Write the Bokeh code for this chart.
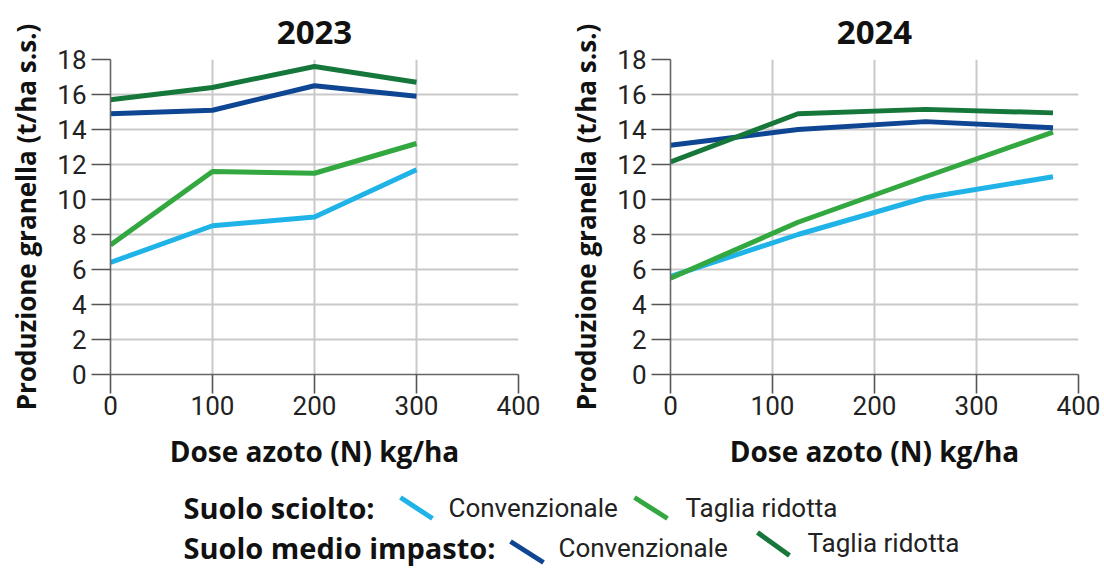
from bokeh.plotting import figure
from bokeh.models import Range1d, FixedTicker
from bokeh.layouts import column, row
from bokeh.core.properties import value
from bokeh.embed import file_html
from bokeh.resources import INLINE

# ---------------- data ----------------
x_2023 = [0, 100, 200, 300]
x_2024 = [0, 125, 250, 375]

sciolto_conv_2023 = [6.4, 8.5, 9.0, 11.7]
sciolto_tr_2023 = [7.4, 11.6, 11.5, 13.2]
medio_conv_2023 = [14.9, 15.1, 16.5, 15.9]
medio_tr_2023 = [15.7, 16.4, 17.6, 16.7]

sciolto_conv_2024 = [5.6, 8.0, 10.1, 11.3]
sciolto_tr_2024 = [5.5, 8.7, 11.3, 13.85]
medio_conv_2024 = [13.1, 14.0, 14.45, 14.1]
medio_tr_2024 = [12.15, 14.9, 15.15, 14.95]

x_ticks = [0, 100, 200, 300, 400]
y_ticks = [0, 2, 4, 6, 8, 10, 12, 14, 16, 18]

titles = ["2023", "2024"]
x_label = "Dose azoto (N) kg/ha"
y_label = "Produzione granella (t/ha s.s.)"

group_labels = ["Suolo sciolto:", "Suolo medio impasto:"]
item_labels = ["Convenzionale", "Taglia ridotta", "Convenzionale", "Taglia ridotta"]

C_LBLUE = "#1FB3E8"
C_GREEN = "#33A840"
C_DBLUE = "#0F4693"
C_DGREEN = "#16773A"
series_colors = [C_LBLUE, C_GREEN, C_DBLUE, C_DGREEN]

THIN = "Roboto"
BOLD = "Open Sans"

PLOT_H = 480


def make_panel(title, xs, series, width, left_border, right_border):
    p = figure(
        width=width, height=PLOT_H,
        x_range=Range1d(0, 400), y_range=Range1d(0, 18),
        output_backend="svg", toolbar_location=None,
        min_border_left=left_border, min_border_right=right_border,
        min_border_top=59, min_border_bottom=PLOT_H - 59 - 315,
        title=title,
    )
    p.outline_line_color = None
    p.title.align = "center"
    p.title.text_font = BOLD
    p.title.text_font_size = "33px"
    p.title.text_font_style = "bold"
    p.title.text_color = "#111111"
    p.title.standoff = 32

    for ax, ticks in ((p.xaxis[0], x_ticks), (p.yaxis[0], y_ticks)):
        ax.ticker = FixedTicker(ticks=ticks)
        ax.minor_tick_line_color = None
        ax.major_tick_in = 0
        ax.major_tick_out = 19
        ax.axis_line_color = "#666666"
        ax.axis_line_width = 1.6
        ax.major_tick_line_color = "#555555"
        ax.major_tick_line_width = 1.6
        ax.major_label_text_font = THIN
        ax.major_label_text_font_size = "26px"
        ax.major_label_text_color = "#222222"
        ax.axis_label_text_font = BOLD
        ax.axis_label_text_font_style = "bold"
        ax.axis_label_text_color = "#111111"
    p.xaxis.major_label_standoff = 2
    p.yaxis.major_label_standoff = 5
    p.xaxis.axis_label = x_label
    p.yaxis.axis_label = y_label
    p.xaxis.axis_label_text_font_size = "28px"
    p.yaxis.axis_label_text_font_size = "26px"
    p.xaxis.axis_label_standoff = 14
    p.yaxis.axis_label_standoff = 10

    p.grid.grid_line_color = "#c9c9c9"
    p.grid.grid_line_width = 2

    for ys, c in zip(series, series_colors):
        p.line(xs, ys, line_color=c, line_width=5, line_join="round")
    return p


p1 = make_panel(titles[0], x_2023,
                [sciolto_conv_2023, sciolto_tr_2023, medio_conv_2023, medio_tr_2023], 560, 110, 42)
p2 = make_panel(titles[1], x_2024,
                [sciolto_conv_2024, sciolto_tr_2024, medio_conv_2024, medio_tr_2024], 544, 110, 26)

# ---------------- legend ----------------
LW, LH = 1104, 568 - PLOT_H
leg = figure(width=LW, height=LH, x_range=Range1d(0, LW), y_range=Range1d(LH, 0),
             output_backend="svg", toolbar_location=None, min_border=0)
leg.axis.visible = False
leg.grid.visible = False
leg.outline_line_color = None

leg.text(x=[183, 183], y=[27, 67], text=group_labels,
         text_font=value(BOLD), text_font_style="bold", text_font_size=value("29px"),
         text_color="#111111", text_baseline="middle", text_align="left")
leg.text(x=[448, 685, 558, 807], y=[27, 27, 67, 62], text=item_labels,
         text_font=value(THIN), text_font_size=value("26px"),
         text_color="#222222", text_baseline="middle", text_align="left")
leg.segment(x0=[400, 634, 510, 757], y0=[17, 17, 61, 52],
            x1=[432, 667, 543, 789], y1=[38, 38, 82, 75],
            line_color=series_colors, line_width=5)

layout = column(row(p1, p2, spacing=0), leg, spacing=0)
open("out.html", "w").write(file_html(layout, INLINE))
